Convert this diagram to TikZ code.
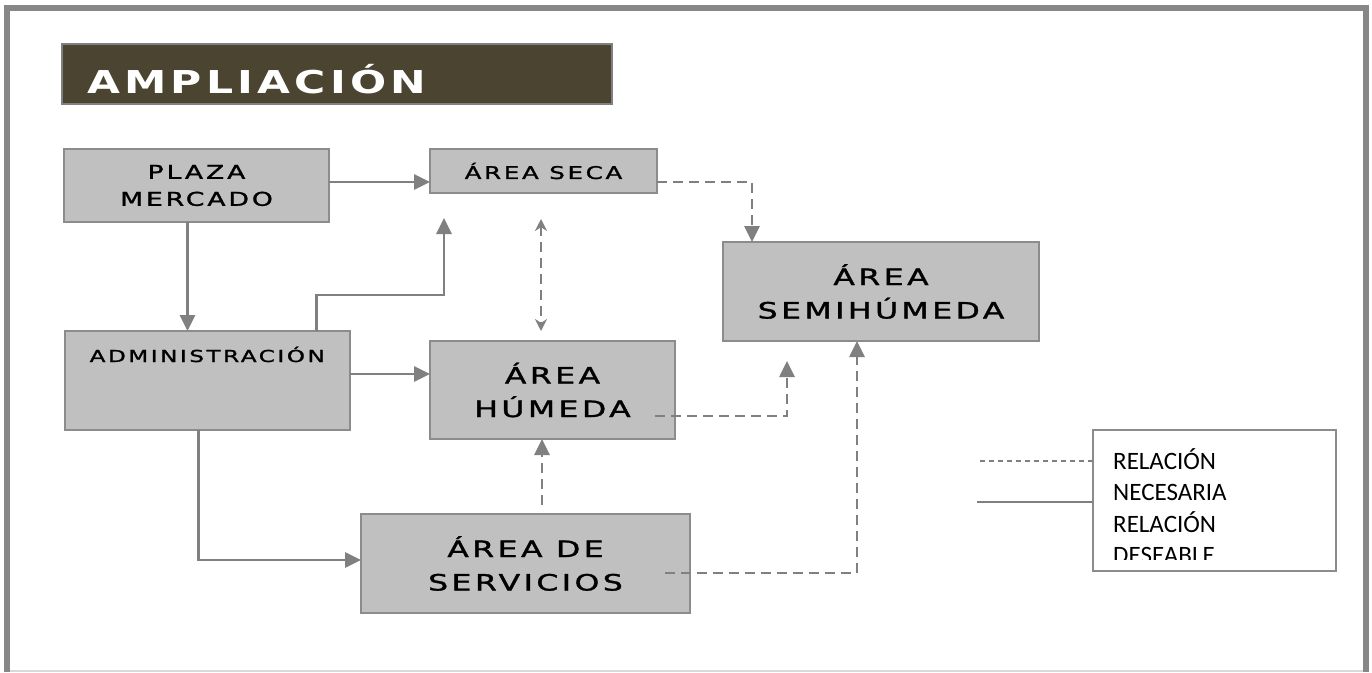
\documentclass[tikz,border=0pt]{standalone}
\usepackage{fontspec}
\usepackage{graphicx}
\usepackage{tikz}
\usetikzlibrary{arrows.meta, positioning}

\newfontfamily\widefont{DejaVu Sans}[LetterSpace=11,FakeBold=1.2]
\newfontfamily\titlefont{DejaVu Sans Bold}[LetterSpace=10]
\newfontfamily\legendfont{Carlito}
\newcommand{\widetxt}[1]{\scalebox{1.4}[1]{#1}}

\definecolor{boxfill}{HTML}{C0C0C0}
\definecolor{boxline}{HTML}{8C8C8C}
\definecolor{linkgray}{HTML}{808080}
\definecolor{titlebg}{HTML}{4A4430}
\definecolor{framegray}{HTML}{878787}

\begin{document}
\begin{tikzpicture}[
    x=1pt, y=-1pt,
    area/.style={draw=boxline, fill=boxfill, line width=2pt, inner sep=0pt, outer sep=0pt, align=center, text=black, font=\widefont\fontsize{19}{27}\selectfont},
    bigarea/.style={area, font=\widefont\fontsize{22.5}{33.5}\selectfont},
    titlebar/.style={draw=linkgray, fill=titlebg, line width=2pt, inner sep=0pt, outer sep=0pt},
    legendbox/.style={draw=boxline, fill=white, line width=1.5pt, inner sep=0pt, outer sep=0pt},
    link/.style={draw=linkgray, line width=2.7pt, -{Triangle[length=16pt,width=15pt]}},
    dlink/.style={link, dash pattern=on 10pt off 6pt},
    dtip/.style={{Stealth[length=12pt,width=12pt]}-{Stealth[length=12pt,width=12pt]}},
    legendline/.style={draw=linkgray, line width=1.6pt}
]
\useasboundingbox (0,0) rectangle (1372,672);

% frame
\draw[framegray, line width=6pt] (7,672) -- (7,7.5) -- (1366,7.5) -- (1366,672);
\draw[black!15, line width=1.5pt] (10,671) -- (1363,671);

% title
\node[titlebar, minimum width=550pt, minimum height=60pt] (title) at (337,74) {};
\node[font=\titlefont\fontsize{31.5}{32}\selectfont, text=white, anchor=base west, inner sep=0pt] (titletxt) at ([xshift=25pt,yshift=-19pt]title.west) {\scalebox{1.35}[1]{AMPLIACIÓN}};

% areas
\node[area, minimum width=265pt, minimum height=73pt] (plaza) at (196.5,185.5) {\widetxt{PLAZA}\\\widetxt{MERCADO}};
\node[area, font=\widefont\fontsize{17.5}{20}\selectfont, minimum width=227pt, minimum height=44pt] (seca) at (543.5,171) {\widetxt{ÁREA SECA}};
\node[bigarea, minimum width=316pt, minimum height=99pt] (semi) at (881,291.5) {\widetxt{ÁREA}\\\widetxt{SEMIHÚMEDA}};
\node[area, minimum width=285.5pt, minimum height=99pt] (admin) at (207.25,380.5) {};
\node[area, draw=none, fill=none, anchor=base, font=\widefont\fontsize{16.5}{18}\selectfont] (admintxt) at ([yshift=-31pt]admin.north) {\widetxt{ADMINISTRACIÓN}};
\node[bigarea, minimum width=245pt, minimum height=98pt] (humeda) at (552.5,390) {\widetxt{ÁREA}\\\widetxt{HÚMEDA}};
\node[bigarea, minimum width=329pt, minimum height=99pt] (servicios) at (525.5,563.5) {\widetxt{ÁREA DE}\\\widetxt{SERVICIOS}};

\coordinate (secain) at ([xshift=14pt,yshift=-25pt]seca.south west);
\coordinate (semiin) at ([xshift=64pt,yshift=-20pt]semi.south west);

% necessary relations
\draw[link] ([yshift=3.5pt]plaza.east) -- ([yshift=3.5pt]plaza.east -| seca.west);
\draw[link] ([xshift=-9pt]plaza.south) -- ([xshift=-9pt]plaza.south |- admin.north);
\draw[link] ([xshift=109pt]admin.north) -- ++(0,-36) -| (secain);
\draw[link] ([yshift=6.5pt]admin.east) -- ([yshift=6.5pt]admin.east -| humeda.west);
\draw[link] ([xshift=-9pt]admin.south) |- ([yshift=3.5pt]servicios.west);

% desirable relations
\draw[dlink, dtip, shorten <=26pt, shorten >=10pt] ([xshift=-2.5pt]seca.south) -- ([xshift=-2.5pt]seca.south |- humeda.north);
\draw[dlink] ([yshift=-11pt]seca.east) -| ([xshift=29pt]semi.north west);
\draw[dlink] ([xshift=-20pt,yshift=-26pt]humeda.east) -| (semiin);
\draw[dlink] ([xshift=-25pt,yshift=-9.5pt]servicios.east) -| ([xshift=134pt]semi.south west);
\draw[dlink, shorten <=9pt] ([xshift=16.5pt]servicios.north) -- ([xshift=16.5pt]servicios.north |- humeda.south);

% legend
\node[legendbox, minimum width=243pt, minimum height=141pt] (legend) at (1214.5,500.5) {};
\begin{scope}
\clip ([xshift=1pt,yshift=-1pt]legend.north west) rectangle ([xshift=-1pt,yshift=12pt]legend.south east);
\node[anchor=north west, inner sep=0pt, align=left, font=\legendfont\fontsize{25}{31.5}\selectfont] (legendtxt) at ([xshift=20pt,yshift=-18pt]legend.north west) {RELACIÓN\\NECESARIA\\RELACIÓN\\DESEABLE};
\end{scope}
\draw[legendline, dash pattern=on 5pt off 4pt] ([yshift=-31pt]legend.north west) -- ++(-116,0);
\draw[legendline] ([yshift=-72pt]legend.north west) -- ++(-116,0);
\end{tikzpicture}
\end{document}
